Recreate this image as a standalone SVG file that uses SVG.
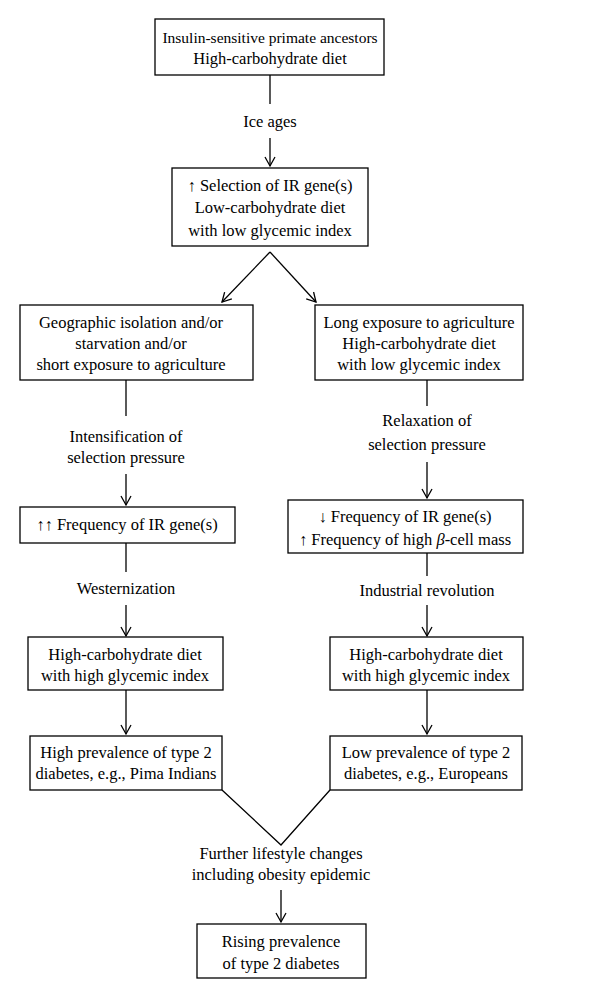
<svg xmlns="http://www.w3.org/2000/svg" width="600" height="1000" viewBox="0 0 600 1000">
<style>
rect{fill:#fff;stroke:#000;stroke-width:1.3}
text{font-family:"Liberation Serif",serif;font-size:16.5px;text-anchor:middle;fill:#000}
#connectors line,#connectors polyline{stroke:#000;stroke-width:1.3;fill:none}
</style>
<defs><marker id="a" markerWidth="12" markerHeight="12" refX="10" refY="6" orient="auto" markerUnits="userSpaceOnUse"><path d="M1,1 L10,6 L1,11" fill="none" stroke="#000" stroke-width="1.3"/></marker></defs>
<rect width="600" height="1000" style="stroke:none"/>
<g id="connectors">
<line x1="270" y1="75" x2="270" y2="104"/>
<line x1="270" y1="138" x2="270" y2="166" marker-end="url(#a)"/>
<line x1="270" y1="252" x2="222" y2="302" marker-end="url(#a)"/>
<line x1="270" y1="252" x2="316" y2="302" marker-end="url(#a)"/>
<line x1="126" y1="380" x2="126" y2="416"/>
<line x1="126" y1="474" x2="126" y2="505" marker-end="url(#a)"/>
<line x1="427" y1="380" x2="427" y2="406"/>
<line x1="427" y1="462" x2="427" y2="498" marker-end="url(#a)"/>
<line x1="126" y1="543" x2="126" y2="572"/>
<line x1="126" y1="605" x2="126" y2="636" marker-end="url(#a)"/>
<line x1="427" y1="553" x2="427" y2="576"/>
<line x1="427" y1="605" x2="427" y2="636" marker-end="url(#a)"/>
<line x1="126" y1="690" x2="126" y2="734" marker-end="url(#a)"/>
<line x1="427" y1="690" x2="427" y2="734" marker-end="url(#a)"/>
<polyline points="222,790 281,845 330,790"/>
<line x1="281" y1="890" x2="281" y2="922" marker-end="url(#a)"/>
</g>
<text x="270" y="127">Ice ages</text>
<text x="126" y="442">Intensification of</text>
<text x="126" y="463">selection pressure</text>
<text x="427" y="426">Relaxation of</text>
<text x="427" y="450">selection pressure</text>
<text x="126" y="594">Westernization</text>
<text x="427" y="596">Industrial revolution</text>
<text x="281" y="859">Further lifestyle changes</text>
<text x="281" y="880">including obesity epidemic</text>
<g id="n1"><rect x="155" y="19" width="229" height="56"/><text x="270" y="43" style="font-size:15.5px">Insulin-sensitive primate ancestors</text><text x="270" y="64">High-carbohydrate diet</text></g>
<g id="n2"><rect x="172" y="168" width="196" height="78"/><text x="270" y="191">↑ Selection of IR gene(s)</text><text x="270" y="213">Low-carbohydrate diet</text><text x="270" y="236">with low glycemic index</text></g>
<g id="n3"><rect x="20" y="305" width="233" height="75"/><text x="131" y="328">Geographic isolation and/or</text><text x="131" y="349">starvation and/or</text><text x="131" y="370">short exposure to agriculture</text></g>
<g id="n4"><rect x="315" y="305" width="208" height="75"/><text x="419" y="328">Long exposure to agriculture</text><text x="419" y="349">High-carbohydrate diet</text><text x="419" y="370">with low glycemic index</text></g>
<g id="n5"><rect x="20" y="507" width="215" height="36"/><text x="127" y="530">↑↑ Frequency of IR gene(s)</text></g>
<g id="n6"><rect x="288" y="500" width="235" height="53"/><text x="405" y="522">↓ Frequency of IR gene(s)</text><text x="405" y="545">↑ Frequency of high <tspan font-style="italic">β</tspan>-cell mass</text></g>
<g id="n7"><rect x="28" y="637" width="195" height="53"/><text x="125" y="660">High-carbohydrate diet</text><text x="125" y="681">with high glycemic index</text></g>
<g id="n8"><rect x="330" y="637" width="193" height="53"/><text x="426" y="660">High-carbohydrate diet</text><text x="426" y="681">with high glycemic index</text></g>
<g id="n9"><rect x="30" y="736" width="192" height="54"/><text x="126" y="758">High prevalence of type 2</text><text x="126" y="779">diabetes, e.g., Pima Indians</text></g>
<g id="n10"><rect x="330" y="736" width="192" height="54"/><text x="426" y="758">Low prevalence of type 2</text><text x="426" y="779">diabetes, e.g., Europeans</text></g>
<g id="n11"><rect x="197" y="924" width="169" height="54"/><text x="281" y="947">Rising prevalence</text><text x="281" y="969">of type 2 diabetes</text></g>
</svg>
